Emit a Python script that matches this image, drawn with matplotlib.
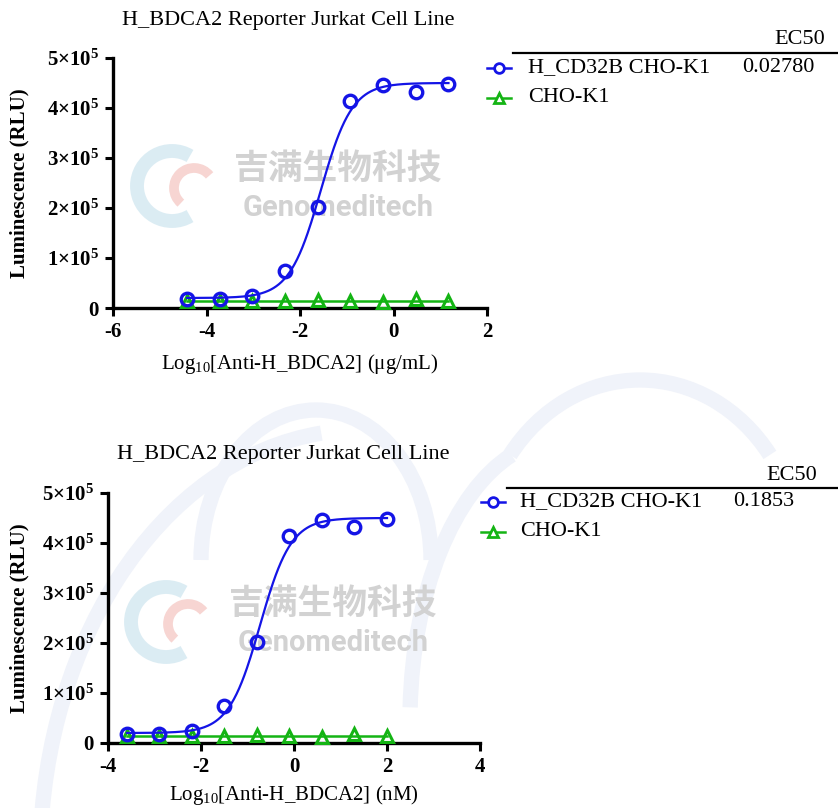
import numpy as np
import matplotlib.pyplot as plt
from matplotlib.lines import Line2D
from matplotlib.patches import Arc

# log10 concentrations (5-fold dilutions)
x_ug = [1.176, 0.477, -0.222, -0.921, -1.620, -2.319, -3.018, -3.717, -4.416]
x_nM = [2.000, 1.301, 0.602, -0.097, -0.796, -1.495, -2.194, -2.893, -3.592]

# luminescence (RLU)
y_cd32b = [449000, 433000, 447000, 414600, 202600, 74000, 25000, 18000, 18000]
y_cho = [14000, 18500, 12000, 14000, 16000, 15000, 14000, 15000, 14000]

# 4PL fit parameters for H_CD32B CHO-K1
bottom, top, hill = 20000, 450000, 1.3
ec50_ug = 0.02780
ec50_nM = 0.1853

titles = ['H_BDCA2 Reporter Jurkat Cell Line', 'H_BDCA2 Reporter Jurkat Cell Line']
xlabels = [r'Log$_{10}$[Anti-H_BDCA2] (μg/mL)', r'Log$_{10}$[Anti-H_BDCA2] (nM)']
series_names = ['H_CD32B CHO-K1', 'CHO-K1']
ec50_labels = ['0.02780', '0.1853']

BLUE = '#1414e6'
GREEN = '#14b414'

plt.rcParams['font.family'] = ['Liberation Serif', 'DejaVu Serif']
plt.rcParams['mathtext.fontset'] = 'custom'
plt.rcParams['mathtext.rm'] = 'Liberation Serif'
plt.rcParams['mathtext.it'] = 'Liberation Serif:italic'
plt.rcParams['mathtext.bf'] = 'Liberation Serif:bold'
plt.rcParams['axes.unicode_minus'] = False


def four_pl(x, logec50):
    return bottom + (top - bottom) / (1 + 10 ** ((logec50 - x) * hill))


fig = plt.figure(figsize=(8.38, 8.08), dpi=100)
W, H = 838, 808


def fx(px):
    return px / W


def fy(py):
    return 1 - py / H


# faint background watermark strokes (behind everything)
wm = '#f0f3fa'
for (cx, cy, w, h, a1, a2) in [(360, 860, 640, 860, 95, 182), (316, 560, 230, 300, 0, 180),
                               (640, 560, 320, 360, 40, 140), (560, 720, 300, 560, 100, 175)]:
    fig.patches.append(Arc((fx(cx), fy(cy)), w / W, h / H, theta1=a1, theta2=a2,
                           transform=fig.transFigure, color=wm, lw=11, zorder=-2))

# logos + text watermark
for (lx, ly, cjk_y, en_y, tx) in [(172, 186, 168, 208, 338), (166, 622, 603, 643, 333)]:
    fig.patches.append(Arc((fx(lx), fy(ly)), 70 / W, 70 / H, theta1=60, theta2=300,
                           transform=fig.transFigure, color='#d3e8f1', lw=10, alpha=0.8, zorder=-1))
    fig.patches.append(Arc((fx(lx + 22), fy(ly + 2)), 40 / W, 40 / H, theta1=40, theta2=230,
                           transform=fig.transFigure, color='#f5cbc7', lw=7, alpha=0.8, zorder=-1))
    fig.text(fx(tx), fy(cjk_y), '吉满生物科技', fontsize=25, fontweight='bold', color='#d2d2d2',
             family=['Noto Sans CJK SC'], ha='center', va='center', zorder=-1)
    fig.text(fx(tx), fy(en_y), 'Genomeditech', fontsize=21, fontweight='bold', color='#d2d2d2',
             family=['Roboto', 'DejaVu Sans'], ha='center', va='center', zorder=-1)

axes_px = [(113, 308, 487, 58), (108, 743, 480, 493)]
xlims = [(-6, 2), (-4, 4)]
xs = [x_ug, x_nM]
ec50s = [np.log10(ec50_ug), np.log10(ec50_nM)]
title_pos = [(288, 20), (283, 455)]
xlabel_y = [-0.175, -0.16]
ylabel_x = [-0.222, -0.21]
legend_px = [
    dict(ec=(825, 40), rule=(513, 53), row1=68, row2=98, mk=499, txt=528, val=742),
    dict(ec=(817, 475), rule=(507, 488), row1=502, row2=532, mk=493, txt=520, val=733),
]

for i in range(2):
    l, b, r, t = axes_px[i]
    ax = fig.add_axes([fx(l), fy(b), (r - l) / W, (b - t) / H])
    ax.set_facecolor('none')
    x = np.array(xs[i])

    ax.plot(x, y_cho, linestyle='none', marker='^', ms=9, mfc='none', mec=GREEN, mew=2.2,
            clip_on=False, zorder=3)
    ax.plot([x.min(), x.max()], [np.mean(y_cho)] * 2, color=GREEN, lw=1.8, zorder=3)

    xx = np.linspace(x.min(), x.max(), 300)
    ax.plot(xx, four_pl(xx, ec50s[i]), color=BLUE, lw=1.6, zorder=4)
    ax.plot(x, y_cd32b, linestyle='none', marker='o', ms=9, mfc='none', mec=BLUE, mew=2.4,
            clip_on=False, zorder=5)

    ax.set_xlim(*xlims[i])
    ax.set_ylim(0, 500000)
    ax.set_xticks(np.arange(xlims[i][0], xlims[i][1] + 1, 2))
    ax.set_yticks(np.arange(0, 500001, 100000))
    ax.set_yticklabels(['0'] + [r'$\mathbf{%d{\times}10^{5}}$' % k for k in range(1, 6)])
    for lab in ax.get_xticklabels() + ax.get_yticklabels():
        lab.set_fontweight('bold')
    ax.tick_params(direction='out', length=6, width=2.2, labelsize=15, pad=4)
    for s in ['top', 'right']:
        ax.spines[s].set_visible(False)
    for s in ['left', 'bottom']:
        ax.spines[s].set_linewidth(2.4)

    ax.set_ylabel('Luminescence (RLU)', fontsize=15, fontweight='bold')
    ax.yaxis.set_label_coords(ylabel_x[i], 0.5)
    ax.set_xlabel(xlabels[i], fontsize=15)
    ax.xaxis.set_label_coords(0.5, xlabel_y[i])

    fig.text(fx(title_pos[i][0]), fy(title_pos[i][1]), titles[i], fontsize=16,
             ha='center', va='center')

    # legend with EC50 table
    lg = legend_px[i]
    fig.text(fx(lg['ec'][0]), fy(lg['ec'][1]), 'EC50', fontsize=16, ha='right', va='center')
    fig.lines.append(Line2D([fx(lg['rule'][0]), 1.0], [fy(lg['rule'][1])] * 2,
                            transform=fig.transFigure, color='black', lw=1.6))
    fig.lines.append(Line2D([fx(lg['mk'] - 12), fx(lg['mk'] + 12)], [fy(lg['row1'])] * 2,
                            transform=fig.transFigure, color=BLUE, lw=1.8))
    fig.lines.append(Line2D([fx(lg['mk'])], [fy(lg['row1'])], transform=fig.transFigure,
                            marker='o', ms=7, mfc='white', mec=BLUE, mew=2, color=BLUE))
    fig.lines.append(Line2D([fx(lg['mk'] - 12), fx(lg['mk'] + 12)], [fy(lg['row2'])] * 2,
                            transform=fig.transFigure, color=GREEN, lw=1.8))
    fig.lines.append(Line2D([fx(lg['mk'])], [fy(lg['row2'])], transform=fig.transFigure,
                            marker='^', ms=7, mfc='white', mec=GREEN, mew=2, color=GREEN))
    fig.text(fx(lg['txt']), fy(lg['row1']), series_names[0], fontsize=16, va='center')
    fig.text(fx(lg['val']), fy(lg['row1']), ec50_labels[i], fontsize=16, va='center')
    fig.text(fx(lg['txt']), fy(lg['row2']), series_names[1], fontsize=16, va='center')

fig.savefig('out.png', dpi=100)
